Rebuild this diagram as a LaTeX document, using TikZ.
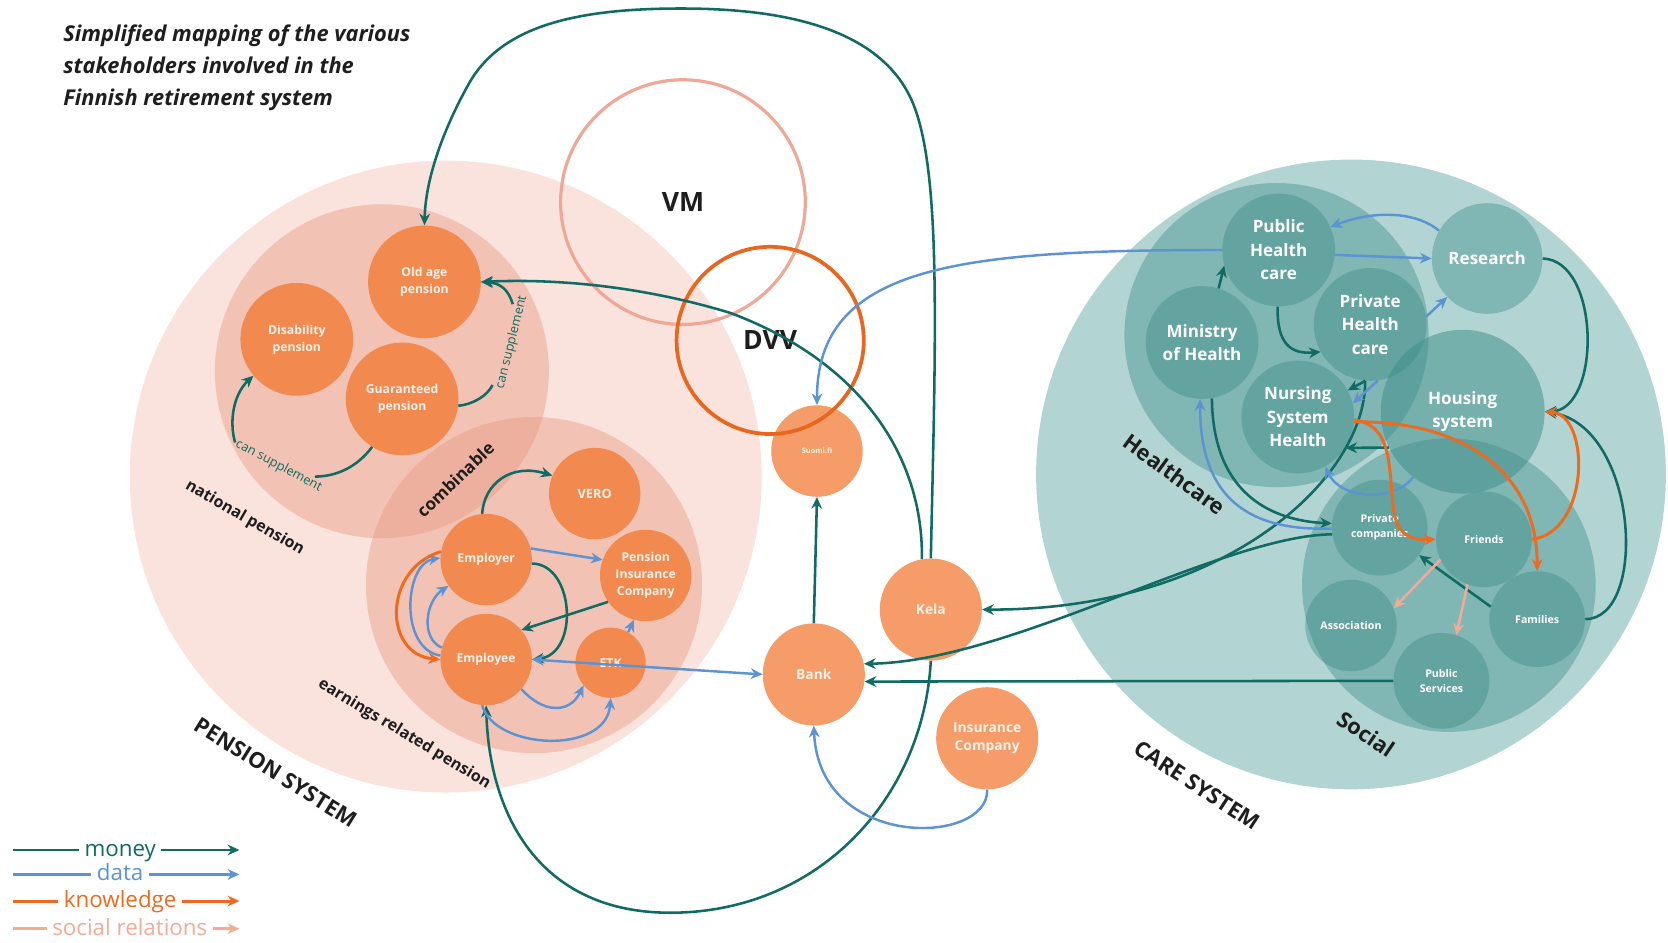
\documentclass[tikz,border=0pt]{standalone}
\usepackage{fontspec}
\setmainfont{Open Sans}
\usetikzlibrary{arrows.meta}
\definecolor{moneyc}{HTML}{0F6B63}
\definecolor{datac}{HTML}{5B93D3}
\definecolor{knowc}{HTML}{EE6A1F}
\definecolor{socialc}{HTML}{F2AB97}
\definecolor{penbg}{HTML}{FAE3DC}
\definecolor{penmid}{HTML}{E8957C}
\definecolor{porange}{HTML}{F28A50}
\definecolor{lorange}{HTML}{F59C68}
\definecolor{carebg}{HTML}{B2D5D3}
\definecolor{caremid}{HTML}{3C8C88}
\definecolor{vmcol}{HTML}{EFA895}
\definecolor{dvvcol}{HTML}{E8661E}
\definecolor{ink}{HTML}{1E1E1E}
\definecolor{ptext}{HTML}{FDF1E8}
\begin{document}
\begin{tikzpicture}[x=1pt,y=-1pt,
  >={Stealth[length=11pt,width=10pt]},
  base/.style={circle,inner sep=0pt,align=center,font=\bfseries\fontsize{11.5}{16}\selectfont},
  pnode/.style={base,fill=porange,text=ptext},
  onode/.style={base,fill=lorange,text=ptext,font=\bfseries\fontsize{13}{17}\selectfont},
  tnode/.style={base,fill=caremid,fill opacity=.42,text opacity=1,text=white,font=\bfseries\fontsize{16}{22}\selectfont},
  snode/.style={tnode,font=\bfseries\fontsize{10}{14}\selectfont},
  ring/.style={circle,inner sep=0pt,text=ink,font=\bfseries\fontsize{25}{30}\selectfont},
  mline/.style={draw=moneyc,line width=2.4pt,->},
  mplain/.style={draw=moneyc,line width=2.4pt},
  dline/.style={draw=datac,line width=2.3pt,->},
  dplain/.style={draw=datac,line width=2.3pt},
  kline/.style={draw=knowc,line width=2.8pt,->},
  kplain/.style={draw=knowc,line width=2.8pt},
  sline/.style={draw=socialc,line width=2.4pt,->},
  splain/.style={draw=socialc,line width=2.4pt},
  area/.style={font=\bfseries\fontsize{15}{18}\selectfont,text=ink},
  bigl/.style={font=\bfseries\fontsize{20.5}{24}\selectfont,text=ink},
  supp/.style={font=\fontsize{12}{14}\selectfont,text=moneyc},
  leg/.style={font=\fontsize{21}{24}\selectfont,inner sep=5pt,anchor=base}
]
\useasboundingbox (0,0) rectangle (1568,886);
\fill[white] (0,0) rectangle (1568,886);

% ---------- background areas ----------
\fill[penbg] (419,448) circle[radius=297pt];
\fill[penmid,fill opacity=.4] (359,349) circle[radius=157pt];
\fill[penmid,fill opacity=.4] (502,550) circle[radius=158pt];
\fill[carebg] (1270,446) circle[radius=296pt];
\fill[caremid,fill opacity=.42] (1200,315) circle[radius=143pt];
\fill[caremid,fill opacity=.42] (1362,550) circle[radius=138pt];

% ---------- title ----------
\node[anchor=west,align=left,text=ink,font=\bfseries\itshape\fontsize{20.5}{30}\selectfont] (title) at (56,64)
 {Simplified mapping of the various\\stakeholders involved in the\\Finnish retirement system};

% ---------- area labels ----------
\node[bigl,rotate=-32] (pensys) at (259,726) {PENSION SYSTEM};
\node[bigl,rotate=-33] (caresys) at (1125,738) {CARE SYSTEM};
\node[bigl,rotate=-36] (hc) at (1104,446) {Healthcare};
\node[bigl,rotate=-34] (soc) at (1284,690) {Social};
\node[area,rotate=-30] (natp) at (230,487) {national pension};
\node[area,rotate=-31] (earn) at (380,690) {earnings related pension};
\node[area,rotate=44,font=\bfseries\fontsize{16}{18}\selectfont] (comb) at (428,451) {combinable};
\node[supp,rotate=-28] (cs1) at (262,438) {can supplement};
\node[supp,rotate=76] (cs2) at (481,322) {can supplement};

% ---------- pension nodes ----------
\node[pnode,minimum size=106pt] (old) at (399,265) {Old age\\pension};
\node[pnode,minimum size=106pt] (dis) at (279,319) {Disability\\pension};
\node[pnode,minimum size=106pt] (gua) at (378,375) {Guaranteed\\pension};
\node[pnode,minimum size=86pt,font=\bfseries\fontsize{12}{15}\selectfont] (vero) at (559,464) {VERO};
\node[pnode,minimum size=86pt] (emr) at (457,526) {Employer};
\node[pnode,minimum size=86pt] (pic) at (607,541) {Pension\\Insurance\\Company};
\node[pnode,minimum size=86pt] (eme) at (457,620) {Employee};
\node[pnode,minimum size=66pt] (etk) at (574,623) {ETK};

% ---------- middle nodes ----------
\node[onode,minimum size=86pt,font=\bfseries\fontsize{7}{9}\selectfont] (suomi) at (768,424) {Suomi.fi};
\node[onode,minimum size=96pt] (kela) at (875,573) {Kela};
\node[onode,minimum size=96pt] (bank) at (765,634) {Bank};
\node[onode,minimum size=96pt] (ins) at (928,694) {Insurance\\Company};

% ---------- care nodes ----------
\node[tnode,minimum size=106pt] (pubh) at (1202,235) {Public\\Health\\care};
\node[tnode,minimum size=106pt] (min) at (1130,322) {Ministry\\of Health};
\node[tnode,minimum size=106pt] (privh) at (1288,305) {Private\\Health\\care};
\node[tnode,minimum size=106pt] (nurs) at (1220,392) {Nursing\\System\\Health};
\node[tnode,minimum size=104pt] (res) at (1398,243) {Research};
\node[tnode,minimum size=154pt,fill opacity=.5] (hous) at (1375,387) {Housing\\system};
\node[snode,minimum size=90pt] (pcomp) at (1297,496) {Private\\companies};
\node[snode,minimum size=90pt] (fri) at (1395,507) {Friends};
\node[snode,minimum size=86pt] (assoc) at (1270,588) {Association};
\node[snode,minimum size=90pt] (fam) at (1445,582) {Families};
\node[snode,minimum size=90pt] (pserv) at (1355,640) {Public\\Services};

% ---------- VM / DVV ----------
\node[ring,draw=vmcol,line width=3pt,minimum size=230pt] (vm) at (642,190) {VM};
\node[ring,draw=dvvcol,line width=3.5pt,minimum size=176pt] (dvv) at (724,320) {DVV};

% ---------- money ----------
\draw[mline] (kela.north) .. controls (880,300) and (885,150) .. (855,90)
  .. controls (820,20) and (720,8) .. (640,8)
  .. controls (540,8) and (470,25) .. (440,80)
  .. controls (415,125) and (400,170) .. (old.north);
\draw[mline] (kela.100) .. controls (868,430) and (810,340) .. (686,294)
  .. controls (600,268) and (520,262) .. (old.east);
\draw[mline] (kela.south) .. controls (868,750) and (770,858) .. (630,858)
  .. controls (510,858) and (460,770) .. (eme.south);
\draw[mline] (bank.north) -- (suomi.south);
\draw[mline] (pserv.west) -- (bank.-8);
\draw[mline] (pcomp.188) .. controls (1150,503) and (950,622) .. (bank.12);
\draw[mline] (privh.-95) .. controls (1284,450) and (1150,574) .. (kela.east);
\draw[mline] (privh.-95) -- (nurs.28);
\draw[mline] (hous.206) -- (nurs.-33);
\draw[mline] (min.73) -- (pubh.196);
\draw[mline] (pubh.-91) .. controls (1200,325) and (1215,333) .. (privh.209);
\draw[mline] (res.east) .. controls (1505,245) and (1505,385) .. (hous.east);
\draw[mline] (fam.east) .. controls (1550,582) and (1540,400) .. (hous.east);
\draw[mline] (fam.165) -- (pcomp.-35);
\draw[mline] (min.-80) .. controls (1140,460) and (1190,489) .. (pcomp.175);
\draw[mline] (emr.95) .. controls (455,455) and (480,435) .. (vero.157);
\draw[mline] (emr.-5) .. controls (540,530) and (545,615) .. (eme.east);
\draw[mline] (pic.-145) -- (eme.40);
\coordinate (csa) at (463,362);
\coordinate (csb) at (482,286);
\coordinate (csc) at (296,448);
\coordinate (csd) at (221,416);
\draw[mplain] (gua.-7) .. controls (445,380) and (458,372) .. (csa);
\draw[mline] (csb) .. controls (478,272) and (470,266) .. (old.east);
\draw[mplain] (gua.-122) .. controls (335,440) and (315,448) .. (csc);
\draw[mline] (csd) .. controls (215,395) and (220,370) .. (dis.220);

% ---------- data ----------
\draw[dline] (pubh.west) .. controls (900,235) and (768,250) .. (suomi.north);
\draw[dline] (res.150) .. controls (1330,198) and (1290,198) .. (pubh.24);
\draw[dline] (pubh.-5) -- (res.west);
\draw[dline] (privh.8) -- (res.224);
\draw[dline] (privh.-82) -- (nurs.14);
\draw[dline] (hous.233) .. controls (1310,472) and (1260,470) .. (nurs.-61);
\draw[dline] (pcomp.181) .. controls (1165,500) and (1128,460) .. (min.-92);
\draw[dline] (ins.south) .. controls (930,795) and (770,800) .. (bank.south);
\draw[dline,<->] (eme.east) -- (bank.west);
\draw[dline] (etk.60) -- (pic.-105);
\draw[dline] (eme.-40) .. controls (510,670) and (535,672) .. (etk.-140);
\draw[dline] (eme.-95) .. controls (465,705) and (570,710) .. (etk.-90);
\draw[dline] (emr.14) -- (pic.160);
\draw[dline] (eme.175) .. controls (375,610) and (380,530) .. (emr.178);
\draw[dline] (eme.165) .. controls (395,600) and (400,565) .. (emr.215);

% ---------- knowledge ----------
\draw[kline] (emr.170) .. controls (360,535) and (360,615) .. (eme.west);
\draw[kline] (nurs.-5) .. controls (1370,395) and (1445,440) .. (fam.north);
\draw[kline] (nurs.-3) .. controls (1310,400) and (1305,440) .. (1310,479)
  .. controls (1313,505) and (1330,508) .. (fri.west);
\draw[kline] (fri.east) .. controls (1495,500) and (1495,390) .. (hous.east);

% ---------- social relations ----------
\draw[sline] (fri.205) -- (assoc.22);
\draw[sline] (fri.-110) -- (pserv.72);

% ---------- legend ----------
\node[leg,text=moneyc] (lgm) at (113,805) {money};
\node[leg,text=datac] (lgd) at (113,828) {data};
\node[leg,text=knowc] (lgk) at (113,853) {knowledge};
\node[leg,text=socialc] (lgs) at (122,879) {social relations};
\coordinate (lgm0) at (12,799); \coordinate (lgm1) at (225,799);
\coordinate (lgd0) at (12,822); \coordinate (lgd1) at (225,822);
\coordinate (lgk0) at (12,847); \coordinate (lgk1) at (225,847);
\coordinate (lgs0) at (12,873); \coordinate (lgs1) at (225,873);
\draw[mplain] (lgm0) -- (lgm.west |- lgm0);
\draw[mline] (lgm.east |- lgm0) -- (lgm1);
\draw[dplain] (lgd0) -- (lgd.west |- lgd0);
\draw[dline] (lgd.east |- lgd0) -- (lgd1);
\draw[kplain] (lgk0) -- (lgk.west |- lgk0);
\draw[kline] (lgk.east |- lgk0) -- (lgk1);
\draw[splain] (lgs0) -- (lgs.west |- lgs0);
\draw[sline] (lgs.east |- lgs0) -- (lgs1);
\end{tikzpicture}
\end{document}
